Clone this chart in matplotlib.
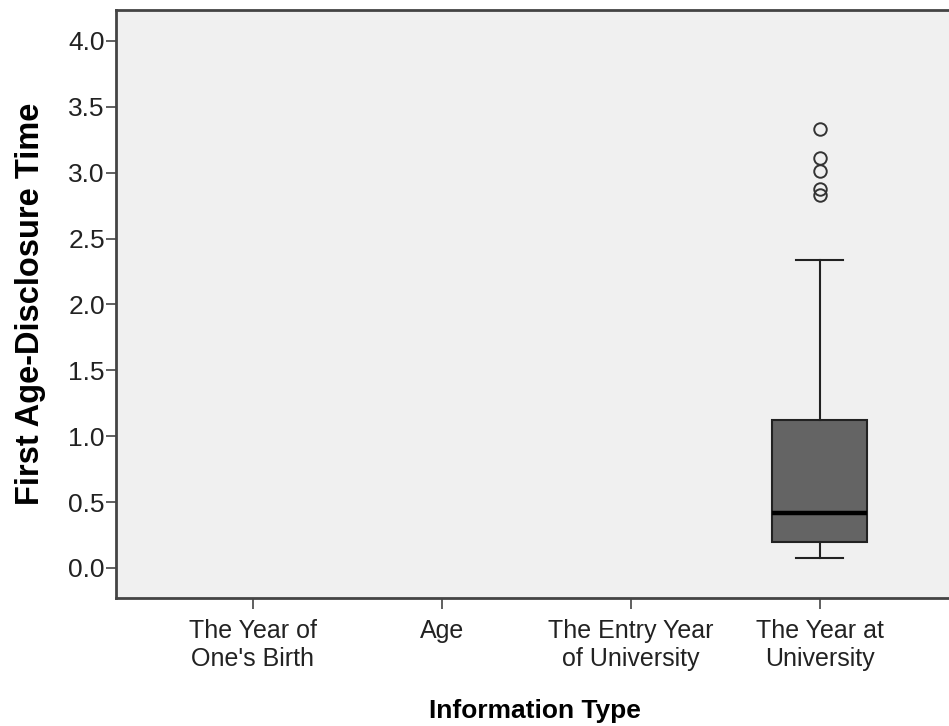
import matplotlib
matplotlib.use("Agg")
import matplotlib.pyplot as plt

categories = ["The Year of\nOne's Birth", "Age", "The Entry Year\nof University", "The Year at\nUniversity"]
# Box statistics for the only non-empty category ("The Year at University")
box_category_index = 3
whisker_low = 0.078
q1 = 0.20
median = 0.415
q3 = 1.123
whisker_high = 2.338
outliers = [2.83, 2.88, 3.01, 3.11, 3.33]
y_ticks = [0.0, 0.5, 1.0, 1.5, 2.0, 2.5, 3.0, 3.5, 4.0]
y_tick_labels = ["0.0", "0.5", "1.0", "1.5", "2.0", "2.5", "3.0", "3.5", "4.0"]

font = "Liberation Sans"

fig = plt.figure(figsize=(9.49, 7.26), dpi=100)
ax = fig.add_axes([0.1222, 0.1763, 0.8828, 0.8099])
ax.set_facecolor("#f0f0f0")

stats = [{
    "whislo": whisker_low, "q1": q1, "med": median, "q3": q3,
    "whishi": whisker_high, "fliers": outliers,
}]
ax.bxp(stats, positions=[box_category_index], widths=0.5, patch_artist=True,
       boxprops=dict(facecolor="#646464", edgecolor="#222222", linewidth=1.5),
       medianprops=dict(color="black", linewidth=3.2),
       whiskerprops=dict(color="#222222", linewidth=1.5),
       capprops=dict(color="#222222", linewidth=1.5),
       capwidths=0.25,
       flierprops=dict(marker="o", markersize=9, markerfacecolor="none",
                       markeredgecolor="#333333", markeredgewidth=1.4))

ax.set_xlim(-0.725, 3.71)
ax.set_ylim(-0.228, 4.235)
ax.set_xticks(range(len(categories)))
ax.set_xticklabels(categories, fontsize=18, family=font, color="#222222",
                   linespacing=1.22)
ax.set_yticks(y_ticks)
ax.set_yticklabels(y_tick_labels, fontsize=19, family=font, color="#222222")
ax.tick_params(axis="x", length=8, width=1.2, color="#444444", pad=7)
ax.tick_params(axis="y", length=7.5, width=1.2, color="#444444", pad=0.5)

for s in ["left", "bottom", "top"]:
    ax.spines[s].set_linewidth(2)
    ax.spines[s].set_color("#444444")
ax.spines["right"].set_visible(False)

ax.set_xlabel("Information Type", fontsize=19, fontweight="bold", family=font,
              va="top")
ax.xaxis.set_label_coords(0.5, -0.171)
ax.set_ylabel("First Age-Disclosure Time", fontsize=23.5, fontweight="bold",
              family=font)
ax.yaxis.set_label_coords(-0.083, 0.5)

fig.savefig("out.png", dpi=100, facecolor="white")
